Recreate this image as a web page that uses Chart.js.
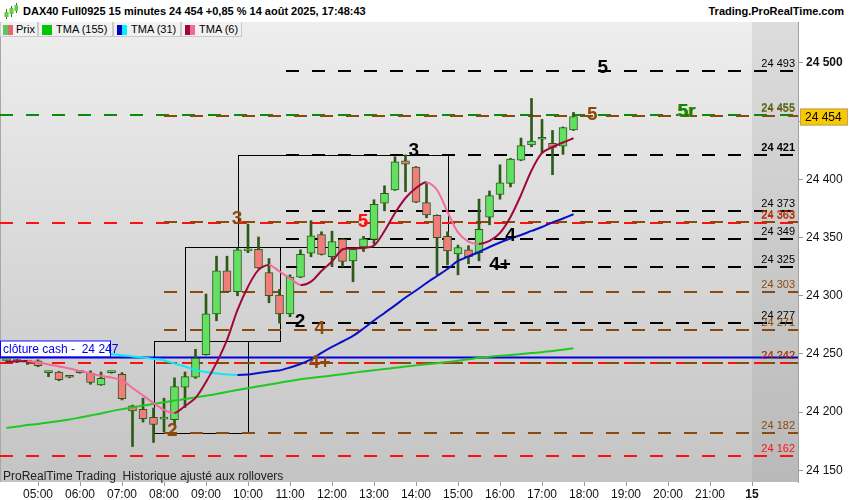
<!DOCTYPE html>
<html>
<head>
<meta charset="utf-8">
<script src="https://cdn.jsdelivr.net/npm/chart.js@4.4.1/dist/chart.umd.min.js"></script>
<style>
  body{margin:0;background:#fff;font-family:"Liberation Sans",Arial,sans-serif;}
  #wrap{position:relative;width:850px;height:500px;overflow:hidden;}
  #c{position:absolute;left:0;top:0;}
  #hdr{position:absolute;left:0;top:0;width:850px;height:22px;background:#fff;font-weight:bold;font-size:11px;line-height:22px;color:#000;}
  #hdr .ttl{position:absolute;left:23px;top:0;}
  #hdr .site{position:absolute;right:6px;top:0;}
  #hdr svg{position:absolute;left:4px;top:3px;}
  .tab{position:absolute;top:22px;height:15px;box-sizing:border-box;background:#f1f1f1;border:1px solid #c9c9c9;border-top:none;font-size:11px;line-height:14px;color:#000;}
  .sw{position:absolute;top:3px;width:5px;height:10px;}
  .tab span.t{position:absolute;top:0;}
  #foot{position:absolute;left:3px;top:469px;font-size:12px;color:#222;}
</style>
</head>
<body>
<div id="wrap">
  <canvas id="c" width="850" height="500"></canvas>
  <div id="hdr">
    <svg width="14" height="17" viewBox="0 0 14 17">
      <rect x="2" y="6" width="1" height="10" fill="#2d7a1a"/><rect x="0.5" y="9" width="4" height="5" fill="#66cc44"/>
      <rect x="7" y="3" width="1" height="11" fill="#2d7a1a"/><rect x="5.5" y="5" width="4" height="6" fill="#66cc44"/>
      <rect x="12" y="0" width="1" height="10" fill="#2d7a1a"/><rect x="10.5" y="2" width="3.5" height="6" fill="#66cc44"/>
    </svg>
    <span class="ttl">DAX40 Full0925 15 minutes 24 454 +0,85 % 14 août 2025, 17:48:43</span>
    <span class="site">Trading.ProRealTime.com</span>
  </div>
  <div class="tab" style="left:0;width:38px;"><div class="sw" style="left:2px;background:#5cc85c"></div><div class="sw" style="left:7px;background:#e06a6a"></div><span class="t" style="left:15px">Prix</span></div>
  <div class="tab" style="left:38px;width:75px;"><div class="sw" style="left:3px;width:10px;background:#00c800"></div><span class="t" style="left:17px">TMA (155)</span></div>
  <div class="tab" style="left:113px;width:68px;"><div class="sw" style="left:3px;background:#0000c8"></div><div class="sw" style="left:8px;background:#00f0ff"></div><span class="t" style="left:17px">TMA (31)</span></div>
  <div class="tab" style="left:181px;width:61px;"><div class="sw" style="left:3px;background:#a0083c"></div><div class="sw" style="left:8px;background:#f06a9a"></div><span class="t" style="left:17px">TMA (6)</span></div>
  <div id="foot">ProRealTime Trading&nbsp; Historique ajusté aux rollovers</div>
</div>
<script>
// 15-minute candles, 14 Aug 2025
const times = ['04:15','04:30','04:45',
  '05:00','05:15','05:30','05:45','06:00','06:15','06:30','06:45',
  '07:00','07:15','07:30','07:45','08:00','08:15','08:30','08:45',
  '09:00','09:15','09:30','09:45','10:00','10:15','10:30','10:45',
  '11:00','11:15','11:30','11:45','12:00','12:15','12:30','12:45',
  '13:00','13:15','13:30','13:45','14:00','14:15','14:30','14:45',
  '15:00','15:15','15:30','15:45','16:00','16:15','16:30','16:45',
  '17:00','17:15','17:30','17:45'];
const opens = [24244,24244,24243,
  24244,24234,24234.5,24230.5, 24234,24233.5,24223.5,24234,
  24232.5,24205.5,24202.5,24195.5, 24194,24193.5,24221.5,24230,
  24249.5,24284.5,24321.5,24303.5, 24338.5,24340,24320,24300.5,
  24284.5,24316,24336.5,24352.5, 24333.5,24348.5,24330,24342,
  24348.5,24379.5,24391,24416, 24410.5,24380,24369,24351,
  24336,24339.5,24337,24367.5, 24387,24396.5,24416.5,24429.5,
  24434.5,24431,24428.5,24442.5];
const highs = [24245,24245,24244.5,
  24245,24234.5,24235,24231, 24235,24235.5,24234.5,24235,
  24234,24206,24212,24203.5, 24212,24229.5,24234.5,24254,
  24301.5,24334,24334,24341, 24361.5,24350.5,24332,24305.5,
  24318,24339.5,24364.5,24355, 24355.5,24349,24340.5,24351,
  24382.5,24394.5,24419.5,24421, 24411,24396.5,24369.5,24355,
  24343.5,24343,24383,24390, 24412.5,24418,24435.5,24469.5,
  24451.5,24442,24445,24457.5];
const lows = [24243,24242.5,24241,
  24239,24230.5,24227,24229.5, 24233.5,24224,24223,24233.5,
  24210.5,24170.5,24191.5,24174, 24183,24189,24204,24229,
  24249,24278.5,24303,24300, 24337,24323.5,24294,24276.5,
  24282,24315.5,24333.5,24335, 24325,24325,24312,24338,
  24344.5,24373,24390.5,24389.5, 24380,24367,24318,24326.5,
  24318,24327.5,24330,24361, 24383,24393.5,24416,24428,
  24422.5,24404,24421.5,24442];
const closes = [24244.5,24243.5,24243.5,
  24240,24234,24228,24230, 24234.5,24225.5,24229,24234.5,
  24211.5,24201,24194.5,24189.5, 24194.5,24222,24230.5,24246.5,
  24284.5,24321.5,24303.5,24339.5, 24339.5,24324,24300,24284.5,
  24316,24335.5,24351.5,24335.5, 24346.5,24329.5,24340,24349,
  24378.5,24388,24415,24413, 24380.5,24369.5,24350,24338.5,
  24341.5,24333.5,24357,24386, 24397,24417.5,24429,24433,
  24435,24427.5,24444.5,24454];
const tma155 = [24186.4,24187.6,24189,
  24189.9,24191.2,24192.4,24193.7, 24195.4,24197.2,24198.9,24200.9,
  24202.6,24204.1,24205.7,24207, 24208.5,24210,24211.3,24212.7,
  24214.1,24215.6,24217.4,24219.1, 24220.6,24222.2,24223.7,24225.3,
  24226.8,24228.3,24229.4,24230.4, 24231.5,24232.6,24233.8,24235,
  24236,24237.1,24238.1,24239.2, 24240.2,24241.2,24242.1,24243,
  24244.2,24245.4,24246.7,24247.6, 24248.4,24249.1,24250,24250.8,
  24251.5,24252.6,24253.7,24254.9];
const tma31 = [24256.9,24256,24255.2,
  24254.3,24253.6,24253,24252.4, 24251.8,24251.2,24250.6,24250,
  24248.9,24247.9,24246.9,24245.7, 24244.4,24241.8,24239.2,24236.3,
  24234.5,24233.2,24232.4,24232, 24232.4,24233.7,24235,24235.8,
  24238.4,24241.4,24245.3,24250.9, 24256,24260.7,24265.5,24271.9,
  24278.8,24285.2,24291.7,24298.5, 24304.5,24311,24317,24323,
  24329.9,24333.8,24337.6,24341.9, 24345.8,24349.2,24352.2,24355.7,
  24359.1,24363,24366.4,24370];
const tma6 = [24243.2,24243.7,24244,
  24242.9,24241,24239.3,24237.5, 24235.4,24233.2,24231.1,24229.8,
  24227.2,24220.8,24214.3,24207.9, 24201.9,24199.3,24205.3,24212.2,
  24226,24242.3,24262.1,24287.8, 24307.8,24322.2,24326.5,24320.9,
  24314.9,24309.3,24312.1,24321.3, 24329.5,24339.8,24340.6,24341.1,
  24343.2,24355.7,24371.1,24384, 24392.6,24397.5,24390.9,24372,
  24354.4,24346.5,24344.5,24347.1, 24354,24367.7,24386.6,24407.6,
  24422.7,24427.8,24431.7,24435.3];

// horizontal levels: price and which study drew it
const levelPrices = [24493,24455.2,24454.5,24421,24373,24362.5,24363.3,24349,24325,24303,24277,24271,24242,24242,24182,24162];
const levelKinds  = ['black','green','brown','black','black','red','brown','black','black','brown','black','brown','red','brown','brown','red'];
// level numbers written on the chart: text, time (h), price, kind
const tagText  = ['5','5','5r','3','3','5','4','4+','2','4','4+','2'];
const tagTime  = [18.45,18.2,20.45,13.95,9.74,12.74,16.25,16.0,11.24,11.71,11.71,8.2];
const tagPrice = [24495,24455,24457,24424,24365,24363,24351,24326,24277,24271,24242,24183];
const tagKinds = ['black','brown','green','black','brown','red','black','black','black','brown','brown','brown'];
// boxes: time range and price range
const boxFrom = [7.75, 8.5, 9.75];
const boxTo   = [10.0, 10.75, 14.75];
const boxLow  = [24182, 24261, 24342];
const boxHigh = [24261, 24342, 24421];
const cashClose = 24247;
const lastPrice = 24454;
const sessionEnd = 22;
const yTicks = [24150,24200,24250,24300,24350,24400,24450,24500];

const F = '"Liberation Sans", Arial, sans-serif';
const kindStyle = {
  black:{color:'#000000', from:10.75, phase:0},
  green:{color:'#0a8a0a', from:null, phase:0},
  brown:{color:'#8b4a0c', from:8.0, phase:8},
  red:  {color:'#ff1010', from:null, phase:0}
};
const fmt = v => String(Math.round(v)).replace(/\B(?=(\d{3})+(?!\d))/g, ' ');
const hours = times.map(t => { const p = t.split(':'); return +p[0] + (+p[1]) / 60; });

const decor = {
  id: 'decor',
  beforeDraw(chart) {
    const {ctx, chartArea: a, scales: {x}} = chart;
    const xe = x.getPixelForValue(sessionEnd);
    let g = ctx.createLinearGradient(0, a.top, 0, a.bottom);
    g.addColorStop(0, '#eeeeee'); g.addColorStop(1, '#c4c4c4');
    ctx.fillStyle = g; ctx.fillRect(a.left, a.top, xe - a.left, a.bottom - a.top);
    g = ctx.createLinearGradient(0, a.top, 0, a.bottom);
    g.addColorStop(0, '#dcdcdc'); g.addColorStop(1, '#b9b9b9');
    ctx.fillStyle = g; ctx.fillRect(xe, a.top, a.right - xe, a.bottom - a.top);
    ctx.fillStyle = '#a8a8a8'; ctx.fillRect(a.left, a.top, 1, a.bottom - a.top);
  },
  beforeDatasetsDraw(chart) {
    const {ctx, chartArea: a, scales: {x, y}} = chart;
    ctx.save();
    ctx.beginPath(); ctx.rect(a.left, a.top, a.right - a.left, a.bottom - a.top); ctx.clip();
    // boxes
    ctx.strokeStyle = '#000'; ctx.lineWidth = 1;
    boxFrom.forEach((f, i) => {
      const x0 = Math.round(x.getPixelForValue(f)) + 0.5, x1 = Math.round(x.getPixelForValue(boxTo[i])) + 0.5;
      const y0 = Math.round(y.getPixelForValue(boxHigh[i])) + 0.5, y1 = Math.round(y.getPixelForValue(boxLow[i])) + 0.5;
      ctx.strokeRect(x0, y0, x1 - x0, y1 - y0);
    });
    // cash close line
    const yc = y.getPixelForValue(cashClose);
    ctx.strokeStyle = '#0000dd'; ctx.lineWidth = 2; ctx.setLineDash([]);
    ctx.beginPath(); ctx.moveTo(a.left, yc); ctx.lineTo(a.right, yc); ctx.stroke();
    // dashed levels
    levelPrices.forEach((p, i) => {
      const s = kindStyle[levelKinds[i]];
      const xs = s.from === null ? a.left : x.getPixelForValue(s.from);
      const yy = Math.round(y.getPixelForValue(p));
      ctx.strokeStyle = s.color; ctx.lineWidth = 2;
      ctx.setLineDash([13, 13]);
      ctx.lineDashOffset = ((xs - s.phase) % 26 + 26) % 26;
      ctx.beginPath(); ctx.moveTo(xs, yy); ctx.lineTo(a.right, yy); ctx.stroke();
    });
    ctx.restore();
  },
  afterDraw(chart) {
    const {ctx, chartArea: a, scales: {x, y}} = chart;
    ctx.save();
    // level numbers
    ctx.font = 'bold 19px ' + F; ctx.textAlign = 'center'; ctx.textBaseline = 'middle';
    tagText.forEach((t, i) => {
      const px = x.getPixelForValue(tagTime[i]), py = y.getPixelForValue(tagPrice[i]) - 1;
      if (t === '5r') { ctx.fillStyle = '#9a8a10'; ctx.fillText(t, px - 1, py); }
      ctx.fillStyle = kindStyle[tagKinds[i]].color;
      ctx.fillText(t, px, py);
    });
    // level values in the right column
    ctx.textAlign = 'right'; ctx.textBaseline = 'alphabetic';
    levelPrices.forEach((p, i) => {
      const k = levelKinds[i];
      ctx.font = (p === 24421 ? 'bold ' : '') + '11px ' + F;
      ctx.fillStyle = k === 'green' ? '#1a8a1a' : kindStyle[k].color;
      ctx.fillText(fmt(p), a.right - 3, y.getPixelForValue(p) - 4);
    });
    // cash close label
    const yc = y.getPixelForValue(cashClose);
    ctx.fillStyle = '#fff'; ctx.fillRect(0, yc - 17, 110, 16);
    ctx.strokeStyle = '#0000ff'; ctx.lineWidth = 1; ctx.strokeRect(0.5, yc - 16.5, 110, 16);
    ctx.fillStyle = '#0000ee'; ctx.font = '12px ' + F; ctx.textAlign = 'left'; ctx.textBaseline = 'middle';
    ctx.fillText('clôture cash -  ' + fmt(cashClose), 3, yc - 8);
    // last price marker
    const yl = y.getPixelForValue(lastPrice);
    ctx.fillStyle = '#f8c800'; ctx.fillRect(a.right + 2, yl - 8, 48, 17);
    ctx.strokeStyle = '#b8a470'; ctx.strokeRect(a.right + 2.5, yl - 7.5, 47, 16);
    ctx.fillStyle = '#000'; ctx.font = '12px ' + F;
    ctx.fillText(fmt(lastPrice), a.right + 7, yl + 1);
    ctx.restore();
  }
};

const upDown = (up, down) => c => c.p1.parsed.y >= c.p0.parsed.y ? up : down;

new Chart(document.getElementById('c'), {
  type: 'bar',
  data: {
    datasets: [
      { type:'line', data: hours.map((h, i) => ({x:h, y:tma6[i]})), borderWidth:2, pointRadius:0, tension:0.3,
        borderColor:'#a0083c', segment:{borderColor: upDown('#a0083c', '#f46a9c')}, order:1 },
      { type:'line', data: hours.map((h, i) => ({x:h, y:tma31[i]})), borderWidth:2, pointRadius:0, tension:0.3,
        borderColor:'#0a10c8', segment:{borderColor: upDown('#0a10c8', '#10e8f8')}, order:2 },
      { type:'line', data: hours.map((h, i) => ({x:h, y:tma155[i]})), borderWidth:2, pointRadius:0, tension:0.3,
        borderColor:'#20c820', order:3 },
      { data: hours.map((h, i) => ({x:h, y:[opens[i], closes[i]]})),
        backgroundColor: hours.map((_, i) => closes[i] >= opens[i] ? '#62e062' : '#f07c7c'),
        borderColor:'#2d5a17', borderWidth:1, borderSkipped:false, barThickness:8, minBarLength:2, grouped:false, order:4 },
      { data: hours.map((h, i) => ({x:h, y:[lows[i], highs[i]]})),
        backgroundColor:'#2d5a17', borderWidth:0, barThickness:2, grouped:false, order:5 }
    ]
  },
  options: {
    responsive:false, animation:false, devicePixelRatio:1,
    layout:{padding:{top:22, left:0, right:0, bottom:0}},
    plugins:{legend:{display:false}, tooltip:{enabled:false}},
    scales: {
      x: {
        type:'linear', min:4.0952, max:23.0952, offset:false,
        grid:{drawOnChartArea:false, offset:false, tickLength:4, color:'#999'},
        border:{display:false},
        afterFit: s => { s.height = 18; },
        afterBuildTicks: s => { s.ticks = [5,6,7,8,9,10,11,12,13,14,15,16,17,18,19,20,21,22].map(v => ({value:v})); },
        ticks:{
          autoSkip:false, maxRotation:0, padding:1, color:'#111',
          font: c => ({family:F, size:12, weight: c.tick && c.tick.value === sessionEnd ? 'bold' : 'normal'}),
          callback: v => v === sessionEnd ? '15' : String(v).padStart(2, '0') + ':00'
        }
      },
      y: {
        type:'linear', position:'right', min:24140, max:24535.2,
        grid:{drawOnChartArea:false, tickLength:5, color:'#999'},
        border:{display:true, color:'#a0a0a0'},
        afterFit: s => { s.width = 52; },
        afterBuildTicks: s => { s.ticks = yTicks.map(v => ({value:v})); },
        ticks:{
          padding:3, color:'#111',
          font: c => ({family:F, size:12, weight: c.tick && c.tick.value === 24500 ? 'bold' : 'normal'}),
          callback: v => fmt(v)
        }
      }
    }
  },
  plugins:[decor]
});
</script>
</body>
</html>
